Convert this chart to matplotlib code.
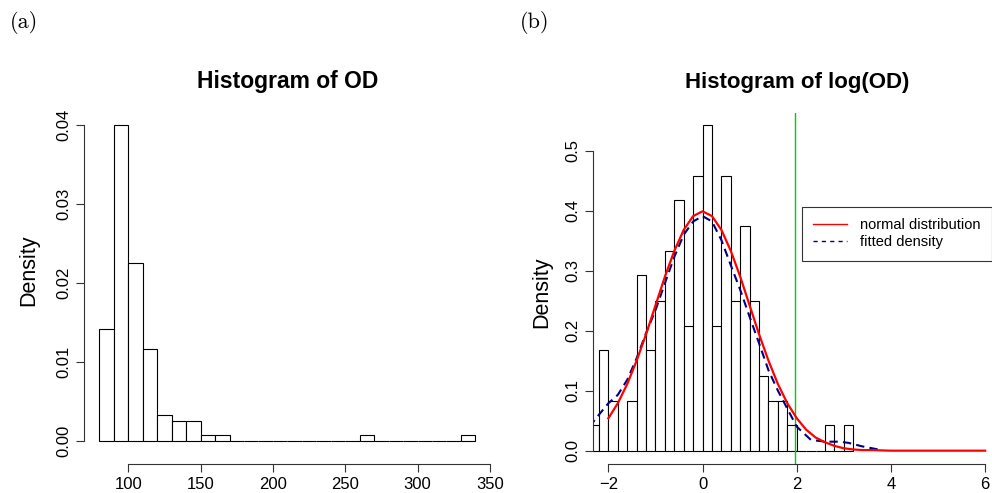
import matplotlib
matplotlib.use("Agg")
import matplotlib.pyplot as plt
from matplotlib.lines import Line2D

plt.rcParams['font.family'] = ['Liberation Sans', 'DejaVu Sans']

# (a) histogram of OD, bin width 10 from 80 to 340
od_edges = list(range(80, 350, 10))
od_density = [0.01417, 0.04000, 0.02250, 0.01167, 0.00333, 0.00250, 0.00250,
              0.00083, 0.00083, 0, 0, 0, 0, 0, 0, 0, 0, 0, 0.00083, 0, 0, 0,
              0, 0, 0, 0.00083]

# (b) histogram of log(OD), bin width 0.2 from -2.4 to 3.2
log_edges = [round(-2.4 + 0.2 * i, 1) for i in range(29)]
log_density = [0.042, 0.167, 0.083, 0.0, 0.083, 0.292, 0.167, 0.250, 0.333,
               0.417, 0.208, 0.458, 0.542, 0.208, 0.458, 0.250, 0.375, 0.250,
               0.125, 0.083, 0.083, 0.042, 0.0, 0.0, 0.0, 0.042, 0.0, 0.042]

# normal distribution curve
norm_x = [-2.0, -1.8, -1.6, -1.4, -1.2, -1.0, -0.8, -0.6, -0.4, -0.2, 0.0,
          0.2, 0.4, 0.6, 0.8, 1.0, 1.2, 1.4, 1.6, 1.8, 2.0, 2.2, 2.4, 2.6,
          2.8, 3.0, 3.2, 3.4, 3.6, 4.0, 6.0]
norm_y = [0.054, 0.079, 0.111, 0.150, 0.194, 0.242, 0.290, 0.333, 0.368,
          0.391, 0.399, 0.391, 0.368, 0.333, 0.290, 0.242, 0.194, 0.150,
          0.111, 0.079, 0.054, 0.035, 0.022, 0.014, 0.008, 0.004, 0.002,
          0.001, 0.001, 0.0, 0.0]

# fitted density curve
fit_x = [-2.4, -2.2, -2.0, -1.8, -1.6, -1.4, -1.2, -1.0, -0.8, -0.6, -0.4,
         -0.2, 0.0, 0.2, 0.4, 0.6, 0.8, 1.0, 1.2, 1.4, 1.6, 1.8, 2.0, 2.3,
         2.6, 2.9, 3.1, 3.4, 3.8]
fit_y = [0.040, 0.060, 0.079, 0.093, 0.118, 0.154, 0.196, 0.234, 0.279, 0.323,
         0.360, 0.382, 0.391, 0.382, 0.351, 0.309, 0.268, 0.223, 0.179, 0.134,
         0.100, 0.070, 0.040, 0.018, 0.015, 0.015, 0.013, 0.007, 0.001]

cutoff = 1.96

W, H = 992, 493
fig = plt.figure(figsize=(W / 100, H / 100), dpi=100)


def px_axes(x0, x1, y0, y1):
    # pixel box -> figure fraction
    return fig.add_axes([x0 / W, (H - y1) / H, (x1 - x0) / W, (y1 - y0) / H])


def r_style(ax, xb, yb):
    for s in ['top', 'right']:
        ax.spines[s].set_visible(False)
    ax.spines['left'].set_bounds(*yb)
    ax.spines['bottom'].set_bounds(*xb)
    for s in ['left', 'bottom']:
        ax.spines[s].set_linewidth(0.8)
        ax.spines[s].set_color('#333333')
    ax.tick_params(length=5.5, width=0.8, color='#333333', labelsize=12, pad=4)
    for lab in ax.get_yticklabels():
        lab.set_rotation(90)
        lab.set_va('center')


# ---- panel (a)
ax1 = px_axes(84.3, 490.4, 112.6, 464)
ax1.bar(od_edges[:-1], od_density, width=10, align='edge', color='white',
        edgecolor='black', linewidth=0.8)
ax1.set_xlim(69.6, 350.4)
ax1.set_ylim(-0.0029, 0.0416)
ax1.set_xticks([100, 150, 200, 250, 300, 350])
ax1.set_yticks([0.0, 0.01, 0.02, 0.03, 0.04])
ax1.set_yticklabels(['0.00', '0.01', '0.02', '0.03', '0.04'])
r_style(ax1, (100, 350), (0, 0.04))
ax1.set_ylabel('Density', fontsize=15.5)
ax1.yaxis.set_label_coords(-0.112, 0.55)
ax1.set_title('Histogram of OD', fontsize=16.5, fontweight='bold', pad=18)

# ---- panel (b)
ax2 = px_axes(593.3, 1000.2, 112.6, 464)
ax2.bar(log_edges[:-1], log_density, width=0.2, align='edge', color='white',
        edgecolor='black', linewidth=0.8)
ax2.axvline(cutoff, color='#00CD00', linewidth=1.0)
ax2.plot(fit_x, fit_y, color='#000080', linewidth=1.5, linestyle=(0, (4, 2.5)))
ax2.plot(norm_x, norm_y, color='red', linewidth=1.6)
ax2.set_xlim(-2.32, 6.32)
ax2.set_ylim(-0.0222, 0.5635)
ax2.set_xticks([-2, 0, 2, 4, 6])
ax2.set_xticklabels(['\u22122', '0', '2', '4', '6'])
ax2.set_yticks([0.0, 0.1, 0.2, 0.3, 0.4, 0.5])
r_style(ax2, (-2, 6), (0, 0.5))
ax2.set_ylabel('Density', fontsize=15.5)
ax2.yaxis.set_label_coords(-0.102, 0.49)
ax2.set_title('Histogram of log(OD)', fontsize=16, fontweight='bold', pad=18)

handles = [Line2D([], [], color='red', linewidth=1.0),
           Line2D([], [], color='#000080', linewidth=1.0, linestyle=(0, (3, 3)))]
leg = ax2.legend(handles, ['normal distribution', 'fitted density'],
                 loc='upper left', bbox_to_anchor=(0.512, 0.732),
                 fontsize=10.5, frameon=True, fancybox=False, edgecolor='black',
                 handlelength=2.3, handletextpad=0.9, borderpad=0.8,
                 labelspacing=0.2, borderaxespad=0)
leg.get_frame().set_linewidth(0.8)

fig.text(10 / W, 1 - 22 / H, '(a)', family='cmr10', fontsize=16, va='center')
fig.text(520 / W, 1 - 22 / H, '(b)', family='cmr10', fontsize=16, va='center')

fig.savefig('out.png', dpi=100)
